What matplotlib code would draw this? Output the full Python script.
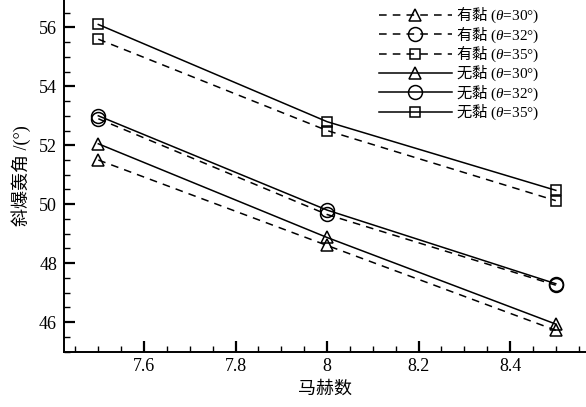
import matplotlib
matplotlib.use("Agg")
import matplotlib.pyplot as plt
from matplotlib.ticker import MultipleLocator, FuncFormatter

plt.rcParams['font.family'] = ['Liberation Serif', 'Noto Sans CJK SC']
plt.rcParams['mathtext.fontset'] = 'custom'
plt.rcParams['mathtext.rm'] = 'Liberation Serif'
plt.rcParams['mathtext.it'] = 'Liberation Serif:italic'
plt.rcParams['mathtext.sf'] = 'Noto Sans CJK SC'

# Mach numbers
mach = [7.5, 8.0, 8.5]

# Oblique detonation angle (deg), viscous flow
visc_30 = [51.5, 48.6, 45.72]
visc_32 = [52.9, 49.65, 47.25]
visc_35 = [55.6, 52.5, 50.12]

# Oblique detonation angle (deg), inviscid flow
invisc_30 = [52.05, 48.87, 45.93]
invisc_32 = [53.0, 49.8, 47.3]
invisc_35 = [56.1, 52.8, 50.47]

series = [
    (visc_30, '--', '^', 9, '$\\mathsf{有黏}$ ($\\mathit{\\theta}$=30°)'),
    (visc_32, '--', 'o', 10, '$\\mathsf{有黏}$ ($\\mathit{\\theta}$=32°)'),
    (visc_35, '--', 's', 7.5, '$\\mathsf{有黏}$ ($\\mathit{\\theta}$=35°)'),
    (invisc_30, '-', '^', 9, '$\\mathsf{无黏}$ ($\\mathit{\\theta}$=30°)'),
    (invisc_32, '-', 'o', 10, '$\\mathsf{无黏}$ ($\\mathit{\\theta}$=32°)'),
    (invisc_35, '-', 's', 7.5, '$\\mathsf{无黏}$ ($\\mathit{\\theta}$=35°)'),
]

fig = plt.figure(figsize=(5.86, 4.07), dpi=100)
ax = fig.add_axes([64 / 586, 55.5 / 407, 1 - 64 / 586, 351.5 / 407])

for vals, ls, mk, ms, lab in series:
    line, = ax.plot(mach, vals, linestyle=ls, color='black', linewidth=1.1,
                    marker=mk, markersize=ms, markerfacecolor='none',
                    markeredgecolor='black', markeredgewidth=1.1, label=lab)
    if ls == '--':
        line.set_dashes((5, 4))

ax.set_xlim(7.425, 8.566)
ax.set_ylim(45, 56.93)

ax.xaxis.set_major_locator(MultipleLocator(0.2))
ax.xaxis.set_minor_locator(MultipleLocator(0.05))
ax.yaxis.set_major_locator(MultipleLocator(2))
ax.yaxis.set_minor_locator(MultipleLocator(0.5))
ax.xaxis.set_major_formatter(FuncFormatter(lambda v, p: '%g' % round(v, 2)))

ax.tick_params(which='major', direction='in', length=8, width=1.6,
               labelsize=13, pad=5)
ax.tick_params(which='minor', direction='in', length=4, width=1.0)
ax.tick_params(top=False, right=False)

ax.spines['top'].set_visible(False)
ax.spines['right'].set_visible(False)
ax.spines['left'].set_linewidth(1.4)
ax.spines['bottom'].set_linewidth(1.4)

ax.set_xlabel('马赫数', fontsize=13, labelpad=4)
ax.set_ylabel('斜爆轰角 /(°)', fontsize=13, labelpad=6)

leg = ax.legend(loc='upper right', bbox_to_anchor=(0.922, 1.0), frameon=False,
                fontsize=11, handlelength=4.8, handletextpad=0.25,
                labelspacing=0.0, numpoints=1, borderaxespad=0.0)

fig.savefig('out.png', dpi=100)
